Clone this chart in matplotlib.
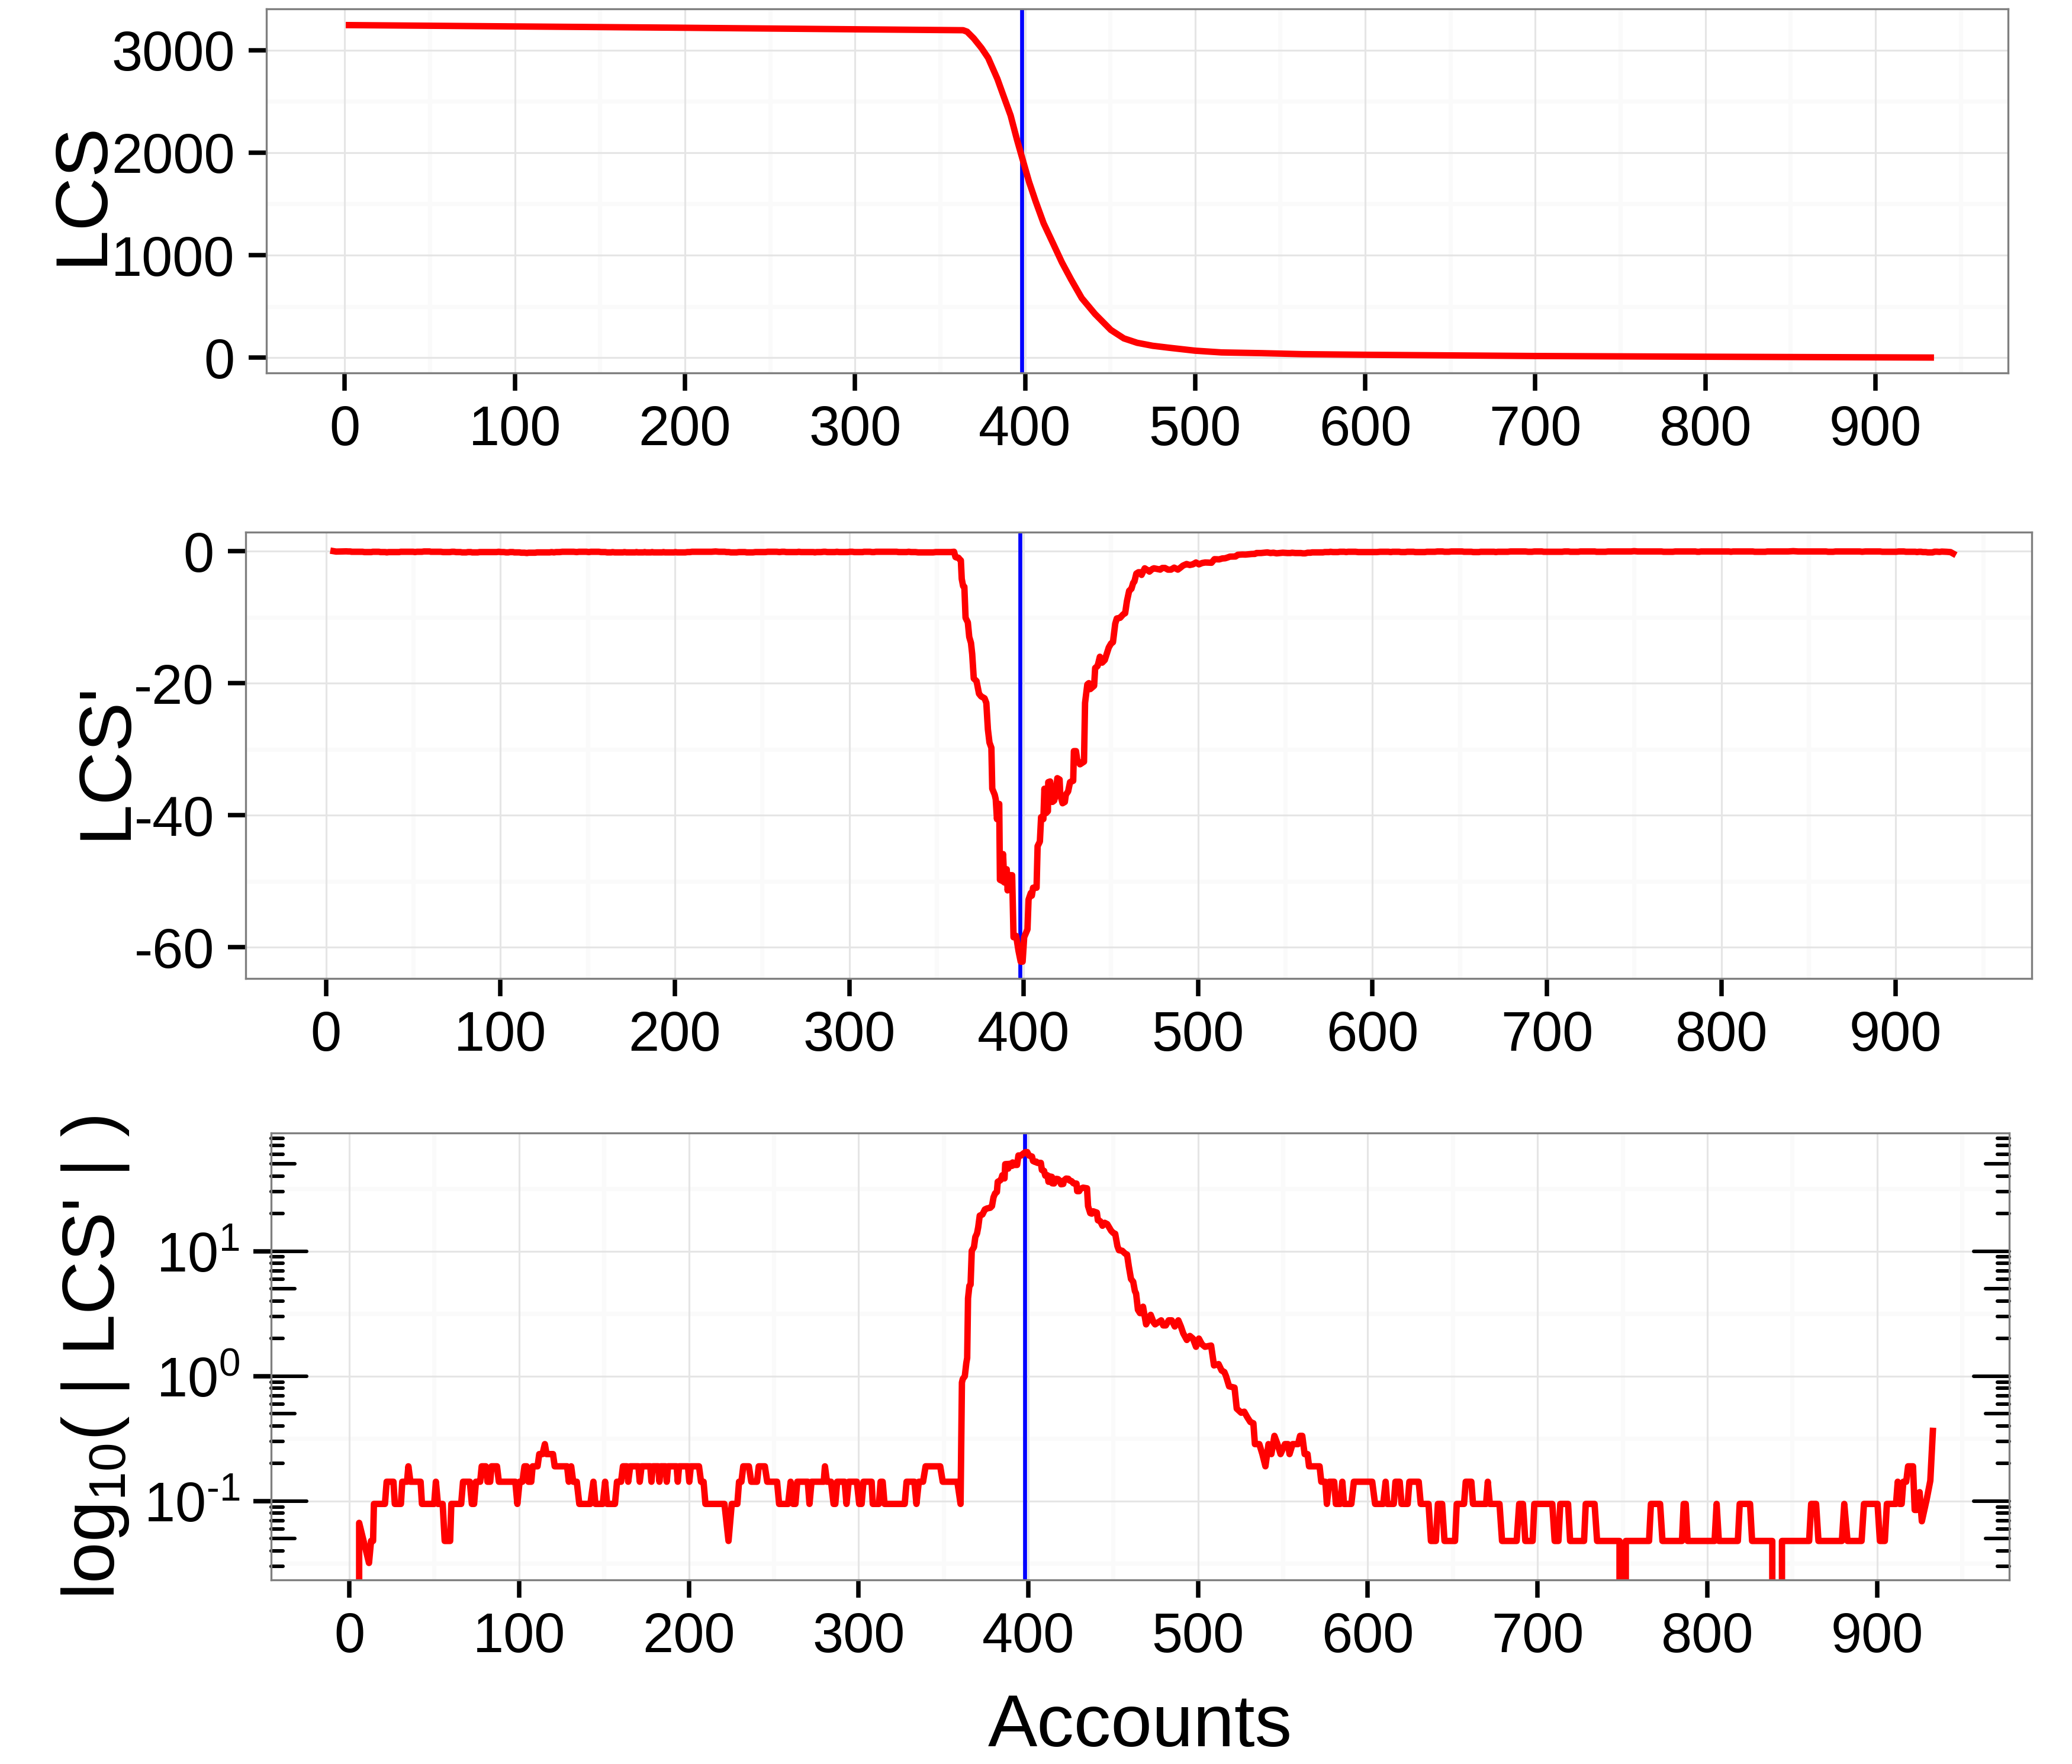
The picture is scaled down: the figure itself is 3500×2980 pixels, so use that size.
import matplotlib
matplotlib.use("Agg")
import matplotlib.pyplot as plt
import matplotlib.ticker as mticker
import numpy as np

plt.rcParams['font.family'] = ['Liberation Sans', 'DejaVu Sans']
plt.rcParams['mathtext.fontset'] = 'custom'
plt.rcParams['mathtext.rm'] = 'Liberation Sans'
plt.rcParams['mathtext.it'] = 'Liberation Sans:italic'
plt.rcParams['mathtext.bf'] = 'Liberation Sans:bold'
plt.rcParams['axes.unicode_minus'] = False

# LCS per number of accounts (top panel)
lcs_x = [2.5, 100, 193, 300, 363.6, 365.9, 369.8, 374.4, 378.3, 383.7, 386.8,
         391.5, 395.3, 399.2, 402.3, 406.2, 410.9, 416.3, 421.7, 427.1, 433.3,
         441.1, 450.4, 458.1, 465.9, 475, 484.5, 500, 515.5, 538.8, 563, 600,
         700, 800, 900, 932.5]
lcs_y = [3246, 3233, 3221, 3205, 3196, 3182, 3117, 3022, 2926, 2722, 2579,
         2364, 2124, 1897, 1718, 1526, 1311, 1120, 928, 761, 581,
         426, 270, 187, 144, 115, 96, 67, 50, 43, 33, 27,
         15, 8, 2, 0]

# LCS' (slope of LCS)
lcs_prime_pts = [
    (4.3, 0.0), (5.8, -0.067), (11.6, -0.032), (12.8, -0.048), (14.0, -0.048),
    (14.5, -0.095), (21.0, -0.095), (22.0, -0.143), (26.0, -0.143), (26.8, -0.095),
    (30.4, -0.095), (31.2, -0.143), (34.0, -0.143), (34.8, -0.19), (36.0, -0.143),
    (42.0, -0.143), (42.8, -0.095), (50.0, -0.095), (51.0, -0.143), (52.2, -0.095),
    (55.0, -0.095), (56.2, -0.048), (59.4, -0.048), (60.1, -0.095), (65.9, -0.095),
    (67.0, -0.143), (71.0, -0.143), (72.2, -0.095), (73.5, -0.095), (74.6, -0.143),
    (77.1, -0.143), (78.0, -0.19), (80.4, -0.19), (81.4, -0.143), (83.0, -0.143),
    (83.8, -0.19), (87.0, -0.19), (88.1, -0.143), (97.8, -0.143), (99.0, -0.095),
    (100.3, -0.143), (102.0, -0.143), (103.2, -0.19), (104.5, -0.19), (105.5, -0.143),
    (107.2, -0.143), (108.0, -0.19), (110.9, -0.19), (111.9, -0.238), (113.8, -0.238),
    (115.2, -0.286), (116.2, -0.238), (120.0, -0.238), (121.0, -0.19), (128.3, -0.19),
    (129.3, -0.143), (130.7, -0.19), (131.9, -0.143), (134.0, -0.143), (135.5, -0.095),
    (142.0, -0.095), (143.8, -0.143), (145.0, -0.095), (149.3, -0.095), (150.7, -0.143),
    (151.9, -0.095), (156.5, -0.095), (157.7, -0.143), (160.1, -0.143), (161.2, -0.19),
    (163.5, -0.19), (164.3, -0.143), (165.5, -0.19), (170.3, -0.19), (171.1, -0.143),
    (172.2, -0.19), (177.3, -0.19), (178.0, -0.143), (178.8, -0.19), (182.0, -0.19),
    (182.7, -0.143), (183.5, -0.19), (186.3, -0.19), (187.0, -0.143), (187.8, -0.19),
    (192.8, -0.19), (193.5, -0.143), (194.3, -0.19), (199.5, -0.19), (200.3, -0.143),
    (201.2, -0.19), (206.0, -0.19), (207.2, -0.143), (208.7, -0.143), (209.8, -0.095),
    (221.0, -0.095), (223.4, -0.048), (225.3, -0.095), (228.6, -0.095), (229.6, -0.143),
    (231.0, -0.143), (232.1, -0.19), (235.4, -0.19), (236.8, -0.143), (240.2, -0.143),
    (241.2, -0.19), (244.8, -0.19), (246.2, -0.143), (252.0, -0.143), (253.2, -0.095),
    (258.5, -0.095), (260.0, -0.143), (261.4, -0.095), (262.8, -0.095), (263.9, -0.143),
    (270.1, -0.143), (271.1, -0.095), (272.3, -0.143), (279.5, -0.143), (280.2, -0.19),
    (281.4, -0.143), (283.8, -0.143), (285.3, -0.095), (286.3, -0.095), (287.4, -0.143),
    (291.8, -0.143), (292.9, -0.095), (294.2, -0.143), (299.0, -0.143), (300.4, -0.095),
    (301.8, -0.095), (302.9, -0.143), (307.7, -0.143), (308.4, -0.095), (312.0, -0.095),
    (313.0, -0.143), (314.2, -0.143), (315.3, -0.095), (327.2, -0.095), (328.3, -0.143),
    (332.9, -0.143), (334.1, -0.095), (335.5, -0.143), (338.0, -0.143), (339.5, -0.19),
    (348.1, -0.19), (349.6, -0.143), (358.2, -0.143), (360.1, -0.095),
    # the drop
    (360.9, -0.89), (361.4, -0.95), (362.6, -1.0), (363.5, -1.28), (364.0, -1.4),
    (364.5, -4.2), (365.3, -5.3), (366.0, -5.4), (366.7, -10.1), (368.0, -10.8),
    (368.8, -13.0), (369.8, -13.9), (370.5, -15.6), (371.4, -19.3), (373.0, -19.7),
    (374.4, -21.6), (375.6, -22.0), (377.6, -22.3), (378.6, -23.0), (379.5, -27.0),
    (380.4, -29.0), (381.5, -29.8), (382.0, -36.0), (383.4, -36.9), (384.0, -37.6),
    (384.7, -40.6), (385.4, -38.5), (386.0, -38.3), (386.4, -49.8), (388.0, -50.0),
    (388.2, -45.9), (388.9, -50.2), (390.3, -48.2), (390.8, -51.4), (391.8, -49.1),
    (393.4, -49.1), (394.2, -58.5), (395.7, -58.3), (397.0, -60.5), (398.3, -62.2),
    (399.4, -62.2), (400.3, -58.5), (402.2, -57.3), (402.8, -52.8), (404.1, -51.8),
    (404.7, -52.2), (405.4, -51.0), (407.4, -51.0), (408.0, -44.7), (409.3, -44.0),
    (410.0, -40.3), (411.3, -40.6), (411.9, -36.0), (412.8, -39.7), (413.9, -39.4),
    (414.1, -35.0), (415.2, -34.9), (416.5, -38.0), (417.5, -37.8), (418.4, -36.9),
    (419.3, -34.4), (420.6, -34.6), (421.0, -36.9), (422.3, -38.2), (423.6, -38.0),
    (424.2, -36.9), (425.5, -36.4), (426.6, -35.0), (428.4, -34.8), (428.8, -30.3),
    (430.0, -30.3), (430.7, -31.6), (432.3, -32.3), (434.6, -31.9), (435.2, -23.0),
    (436.5, -20.2), (437.4, -20.0), (438.2, -20.9), (440.4, -20.4), (441.0, -17.7),
    (442.4, -17.4), (443.7, -16.0), (445.0, -16.9), (446.5, -16.5), (448.8, -14.6),
    (450.1, -14.0), (451.2, -13.8), (452.5, -11.0), (453.4, -10.2), (455.3, -10.1),
    # the tail
    (457.0, -9.6), (458.2, -9.4), (459.2, -7.6), (460.5, -6.0), (461.8, -5.7),
    (462.8, -4.8), (463.5, -4.6), (464.6, -3.4), (465.8, -3.2), (466.7, -3.2),
    (467.6, -3.6), (469.4, -2.6), (471.2, -2.9), (472.1, -3.1), (473.8, -2.7),
    (474.7, -2.6), (476.5, -2.7), (478.3, -2.8), (479.5, -2.55), (481.0, -2.55),
    (482.7, -2.8), (484.5, -2.8), (486.3, -2.5), (488.4, -2.8), (489.9, -2.5),
    (491.3, -2.2), (493.4, -1.95), (495.2, -2.1), (497.0, -2.0), (498.8, -1.72),
    (500.5, -2.0), (502.3, -1.8), (504.1, -1.72), (507.7, -1.76), (509.4, -1.22),
    (512.1, -1.25), (513.9, -1.11), (515.5, -1.08), (516.5, -1.0), (518.3, -0.83),
    (521.5, -0.81), (522.8, -0.55), (525.4, -0.51), (527.2, -0.52), (529.0, -0.47),
    (530.8, -0.43), (532.6, -0.42), (533.5, -0.286), (536.1, -0.286), (537.9, -0.238),
    (539.7, -0.19), (541.5, -0.286), (543.2, -0.238), (545.0, -0.333), (546.8, -0.286),
    (548.6, -0.238), (551.2, -0.286), (553.0, -0.286), (553.9, -0.238), (555.7, -0.286),
    (558.9, -0.286), (560.1, -0.333), (561.4, -0.333), (562.8, -0.238), (564.5, -0.238),
    (565.4, -0.19), (571.6, -0.19), (572.6, -0.143), (575.0, -0.143), (575.9, -0.095),
    (577.3, -0.143), (580.2, -0.143), (581.2, -0.095), (583.8, -0.095), (585.0, -0.143),
    (586.0, -0.095), (590.3, -0.095), (591.8, -0.143), (602.6, -0.143), (604.3, -0.095),
    (609.1, -0.095), (610.5, -0.143), (611.5, -0.095), (615.3, -0.095), (616.3, -0.143),
    (618.8, -0.143), (619.9, -0.095), (623.5, -0.095), (624.5, -0.143), (630.0, -0.143),
    (631.2, -0.095), (635.8, -0.095), (637.2, -0.048), (640.1, -0.048), (641.3, -0.095),
    (643.8, -0.095), (645.2, -0.048), (651.4, -0.048), (652.4, -0.095), (656.7, -0.095),
    (657.7, -0.143), (661.0, -0.143), (662.0, -0.095), (669.7, -0.095), (670.7, -0.143),
    (671.9, -0.095), (677.6, -0.095), (679.1, -0.048), (687.7, -0.048), (689.2, -0.095),
    (691.4, -0.095), (692.8, -0.048), (697.1, -0.048), (698.1, -0.095), (708.7, -0.095),
    (710.1, -0.048), (712.3, -0.048), (713.4, -0.095), (718.0, -0.095), (719.2, -0.048),
    (727.4, -0.048), (728.4, -0.095), (733.6, -0.095), (735.1, -0.048), (748.3, -0.048),
    (750.0, 0.0), (752.0, -0.048), (765.7, -0.048), (766.8, -0.095), (772.2, -0.095),
    (773.6, -0.048), (785.1, -0.048), (786.1, -0.095), (787.3, -0.095), (788.4, -0.048),
    (804.3, -0.048), (805.5, -0.095), (806.8, -0.048), (818.0, -0.048), (819.1, -0.095),
    (825.2, -0.095), (826.4, -0.048), (838.3, -0.048), (841.2, 0.0), (844.0, -0.048),
    (860.0, -0.048), (861.2, -0.095), (864.1, -0.095), (865.5, -0.048), (879.3, -0.048),
    (880.7, -0.095), (882.6, -0.048), (890.9, -0.048), (892.3, -0.095), (900.3, -0.095),
    (901.7, -0.048), (904.6, -0.048), (905.8, -0.095), (911.2, -0.095), (912.2, -0.143),
    (913.3, -0.095), (914.5, -0.095), (915.5, -0.143), (917.2, -0.143), (918.3, -0.19),
    (921.2, -0.19), (922.2, -0.085), (923.5, -0.085), (925.1, -0.118), (926.4, -0.069),
    (929.3, -0.104), (931.4, -0.146), (932.9, -0.365),
]
lcs_prime_x, lcs_prime = np.array(lcs_prime_pts).T

cut_x = 398  # blue marker

x_ticks = [0, 100, 200, 300, 400, 500, 600, 700, 800, 900]
x_minor = [50, 150, 250, 350, 450, 550, 650, 750, 850, 950]
lcs_ticks = [0, 1000, 2000, 3000]
lcs_minor = [500, 1500, 2500]
prime_ticks = [-60, -40, -20, 0]
prime_minor = [-50, -30, -10]
log_ticks = [0.1, 1, 10]
log_labels = ['$\\mathregular{10^{\u2010' + '1}}$', '$\\mathregular{10^{0}}$',
              '$\\mathregular{10^{1}}$']
log_minor = [10 ** -1.5, 10 ** -0.5, 10 ** 0.5, 10 ** 1.5]

RED = '#FF0000'
BLUE = '#0000FF'
GRID_MAJ = '#E5E5E5'
GRID_MIN = '#FAFAFA'
TICK_FS = 22.5
TITLE_FS = 30


def frame(ax, y_major, y_minor):
    for v in x_minor:
        ax.axvline(v, color=GRID_MIN, lw=1.7, zorder=0.1)
    for v in y_minor:
        ax.axhline(v, color=GRID_MIN, lw=1.7, zorder=0.1)
    for v in x_ticks:
        ax.axvline(v, color=GRID_MAJ, lw=0.75, zorder=0.2)
    for v in y_major:
        ax.axhline(v, color=GRID_MAJ, lw=0.75, zorder=0.2)
    ax.axvline(cut_x, color=BLUE, lw=1.6, zorder=2)
    ax.set_xticks(x_ticks)
    ax.set_yticks(y_major)
    ax.yaxis.set_minor_locator(mticker.NullLocator())
    ax.xaxis.set_minor_locator(mticker.NullLocator())
    for s in ax.spines.values():
        s.set_color('#7F7F7F')
        s.set_linewidth(0.8)
        s.set_zorder(5)
    ax.tick_params(which='major', direction='out', length=7.3, width=1.8,
                   color='black', labelcolor='black', labelsize=TICK_FS, pad=5.5,
                   top=False, right=False)


fig = plt.figure(figsize=(3500 / 300, 2980 / 300), dpi=300)
ax1 = fig.add_axes([0.1286, 0.7886, 0.8406, 0.2064])
ax2 = fig.add_axes([0.1186, 0.4453, 0.8620, 0.2530])
ax3 = fig.add_axes([0.1309, 0.1044, 0.8389, 0.2534])

# top: LCS
frame(ax1, lcs_ticks, lcs_minor)
ax1.plot(lcs_x, lcs_y, color=RED, lw=2.6, zorder=3, solid_joinstyle='round')
ax1.set_xlim(-46, 978)
ax1.set_ylim(-150, 3405)

# middle: LCS'
frame(ax2, prime_ticks, prime_minor)
ax2.plot(lcs_prime_x, lcs_prime, color=RED, lw=2.6, zorder=3, solid_joinstyle='round')
ax2.set_xlim(-46, 978)
ax2.set_ylim(-64.75, 2.87)

# bottom: |LCS'| on a log scale
ax3.set_yscale('log', nonpositive='clip')
frame(ax3, log_ticks, log_minor)
ax3.yaxis.set_major_locator(mticker.FixedLocator(log_ticks))
ax3.yaxis.set_major_formatter(mticker.FixedFormatter(log_labels))
ax3.yaxis.set_minor_locator(mticker.NullLocator())
ax3.plot(lcs_prime_x, np.abs(lcs_prime), color=RED, lw=2.6, zorder=3,
         solid_joinstyle='round')
ax3.set_xlim(-46, 978)
lo, hi = 10 ** -1.63, 10 ** 1.948
ax3.set_ylim(lo, hi)

# log ticks inside both sides
trans = ax3.get_yaxis_transform()
w = 2936.0
for k in range(-3, 3):
    for m in range(1, 10):
        v = m * 10.0 ** k
        if not (lo < v < hi):
            continue
        L = 60 / w if m == 1 else (40 / w if m == 5 else 20 / w)
        for x0, x1 in ((0, L), (1 - L, 1)):
            ax3.plot([x0, x1], [v, v], transform=trans, color='black', lw=1.45,
                     solid_capstyle='round', zorder=4, clip_on=False)

# axis titles
fig.text(172 / 3500, 1 - 326 / 2980, 'LCS', rotation=90, rotation_mode='anchor',
         ha='center', va='baseline', fontsize=TITLE_FS)
fig.text(212 / 3500, 1 - 1284 / 2980, "LCS'", rotation=90, rotation_mode='anchor',
         ha='center', va='baseline', fontsize=TITLE_FS)
fig.text(193 / 3500, 1 - 2294 / 2980, "log$_{\\mathregular{10}}$( | LCS' | )",
         rotation=90, rotation_mode='anchor', ha='center', va='baseline',
         fontsize=TITLE_FS)
fig.text(1926 / 3500, 1 - 2950 / 2980, 'Accounts', ha='center', va='baseline',
         fontsize=TITLE_FS)

fig.savefig('out.png', dpi=300)
